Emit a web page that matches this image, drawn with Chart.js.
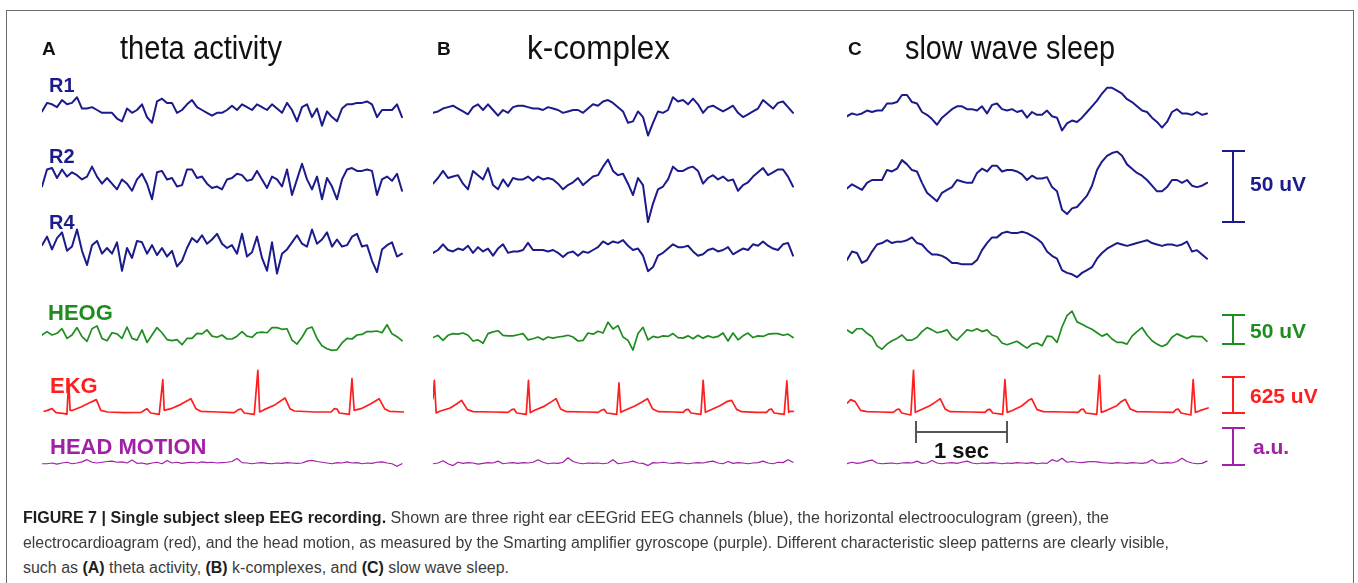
<!DOCTYPE html>
<html><head><meta charset="utf-8">
<script src="https://cdn.jsdelivr.net/npm/chart.js@4.4.1/dist/chart.umd.min.js"></script>
<style>
html,body{margin:0;padding:0;background:#fff;}
#stage{position:relative;width:1358px;height:583px;overflow:hidden;font-family:'Liberation Sans',Arial,Helvetica,sans-serif;}
.frame{position:absolute;left:6px;top:10px;width:1348px;height:600px;border:1.5px solid #6a6a6a;box-sizing:border-box;}
.t{position:absolute;white-space:nowrap;line-height:1;transform-origin:left top;}
.bar{position:absolute;}
canvas{position:absolute;}
</style></head><body><div id="stage"><div class="frame"></div></div>
<script>
// ---------- DATA ----------
const panels = ['theta activity', 'k-complex', 'slow wave sleep'];
const panelLetters = ['A', 'B', 'C'];
const channels = ['R1', 'R2', 'R4', 'HEOG', 'EKG', 'HEAD MOTION'];
const scaleLabels = ['50 uV', '50 uV', '625 uV', 'a.u.'];
const SECONDS_PER_PANEL = 4.0;
const DT = 0.05525;

// EEG (uV), panel A
const r1A = [-1,5,4,2,7,4,5,9,1,1,2,0,-2,-2,-2,-6,-8,1,-2,0,4,-5,-9,6,8,5,5,-2,0,4,7,2,0,-2,-4,-2,-2,0,3,0,4,2,0,4,2,0,4,1,-2,5,0,-8,2,4,-5,1,-11,-1,-5,-8,1,4,4,5,5,6,4,-5,0,0,0,4,-5];
const r2A = [-6,6,7,0,6,1,4,2,-1,1,8,1,-4,0,-4,-8,-1,-4,-9,-1,3,-4,-15,4,5,-1,0,-6,-5,6,6,0,1,-4,-7,-6,-8,-1,0,3,2,-2,-1,5,-1,-7,1,-1,-6,6,-12,-1,10,-1,-8,1,-15,0,-6,-15,-1,6,7,5,5,6,5,-12,-1,1,-2,3,-9];
const r4A = [2,8,-1,7,11,-2,1,13,-2,-12,2,5,-4,0,-4,4,-16,0,-7,5,4,-4,2,-5,0,-6,-2,-13,-9,0,7,4,9,3,6,10,3,0,2,-4,10,-6,-3,8,-7,-16,4,-18,-4,-1,4,9,3,1,13,3,6,11,1,6,1,2,8,10,1,2,-9,-17,-1,2,4,-6,-4];
const heogA = [0,6,0,3,11,-6,0,13,-3,-11,11,16,-6,-10,4,2,-6,14,-6,-9,9,-13,0,13,4,-8,-10,-8,-17,-6,-6,3,2,9,-2,-4,0,-7,-7,-2,6,-2,-4,4,5,4,13,13,10,11,-9,-16,-4,11,14,-6,-19,-24,-27,-26,-14,-6,-7,0,1,6,6,7,4,18,2,-3,-10];
const ekgA_t = [0.025,0.06,0.11,0.155,0.25,0.275,0.295,0.31,0.34,0.43,0.52,0.6,0.65,0.725,0.91,1.095,1.13,1.16,1.2,1.295,1.335,1.35,1.425,1.535,1.645,1.7,1.755,1.94,2.125,2.17,2.2,2.235,2.345,2.385,2.405,2.455,2.565,2.685,2.74,2.79,3.01,3.195,3.23,3.26,3.285,3.395,3.425,3.45,3.525,3.635,3.725,3.785,3.84,4.0];
const ekgA_v = [12,29,58,-12,-29,-41,551,29,29,87,157,215,29,0,-12,-6,29,58,-17,-41,563,29,58,133,232,58,12,0,-12,41,52,-17,-41,725,0,41,116,244,58,17,0,0,58,52,-17,-41,580,29,58,145,232,58,12,0];
const hmA = [-0.02,-0.02,0,-0.03,0,0.02,-0.02,0,0.03,0.09,0.02,0,0.02,0.04,0.05,0.02,0.03,0,0.08,-0.01,0,-0.03,0,0.02,-0.02,0.07,0,0.02,-0.01,0.01,0.02,0,0.03,0.01,0.02,0,0.01,0.02,0.04,0.12,0.01,0,-0.02,0,0.01,-0.01,-0.02,0,-0.01,0.01,0,-0.01,0,0.05,0.07,0.04,0.02,0,-0.02,0.01,0,0.03,0,0.01,-0.02,0,-0.01,0.02,0.03,0,-0.02,-0.09,-0.02];

// panel B
const r1B = [-2,-1,1,2,3,1,-1,-3,2,4,0,4,0,-4,0,-2,2,3,3,2,1,1,0,2,1,0,-2,-1,0,0,-2,1,4,3,6,7,5,2,-1,-9,-8,-1,-5,-18,-9,-1,-2,0,9,6,7,4,8,4,-2,2,3,1,-1,1,3,-2,-5,-3,-1,1,7,4,1,5,6,2,-2];
const r2B = [-4,0,5,0,1,2,-4,-8,5,2,-1,7,-5,-8,-1,-6,0,-1,-1,1,-2,1,-1,0,-1,-4,-8,-5,-3,0,-5,-2,1,2,8,13,5,2,3,-4,-12,0,-5,-31,-18,-8,-6,-1,8,5,5,7,8,5,-4,0,2,-1,1,-2,-1,-9,-5,-3,1,4,7,2,4,6,6,1,-6];
const r4B = [-2,0,4,0,-1,1,0,3,-2,2,-1,1,-4,1,4,-2,-1,-1,0,5,0,0,0,-1,0,-2,-5,-2,-1,-4,-1,-2,0,2,6,4,6,5,7,3,0,1,-4,-15,-12,-4,-2,1,4,2,2,3,-1,-4,-3,0,1,-1,0,2,-3,-1,1,0,4,3,6,3,1,0,4,5,-4];
const heogB = [-1,3,-6,3,6,5,7,3,-7,-5,-11,6,9,11,3,2,2,4,6,-5,-3,0,-5,0,-2,0,1,3,0,-7,-6,7,5,10,7,26,14,20,0,-6,-23,6,17,-5,1,-1,2,1,6,-1,-2,2,-3,3,-2,2,-1,1,7,-7,7,-5,2,7,-1,2,1,5,6,6,3,5,-1];
const ekgB_t = [0.0,0.015,0.035,0.075,0.19,0.26,0.315,0.38,0.445,0.665,0.83,0.87,0.895,0.925,1.03,1.055,1.075,1.11,1.22,1.31,1.36,1.41,1.475,1.7,1.825,1.865,1.89,1.92,2.03,2.055,2.075,2.12,2.23,2.315,2.37,2.425,2.49,2.655,2.765,2.795,2.82,2.85,2.96,2.985,3.01,3.06,3.17,3.245,3.3,3.355,3.41,3.575,3.685,3.715,3.74,3.77,3.88,3.91,3.93,3.95,3.98];
const ekgB_v = [232,551,-17,12,70,139,203,41,6,0,-6,41,52,-17,-41,551,-12,23,93,180,232,52,6,0,-6,35,46,-17,-41,505,-6,29,104,180,232,58,6,0,-6,41,46,-17,-41,551,-6,29,110,180,203,46,6,-6,-6,41,52,-17,-41,540,-6,12,12];
const hmB = [-0.02,0,0.06,-0.02,-0.07,0.02,-0.01,0.01,0,-0.03,-0.01,0.01,0,0.05,-0.02,0,0.01,-0.01,0.01,0,0.02,0.09,0.02,-0.02,0,-0.01,0.02,0.14,0.04,0,-0.02,0,-0.01,0,-0.02,0,0.09,-0.02,0,0.02,0.05,0,-0.01,-0.07,0.01,0,0.02,0,-0.01,0.01,0,-0.02,0,0.01,0,0.03,0.05,0,-0.02,0.04,-0.01,0.01,0,-0.02,0,0.01,0.05,0,-0.02,0.02,0.01,0.09,0.02];

// panel C
const r1C = [-3,-1,-2,-1,1,0,1,1,6,6,7,12,12,7,6,0,-2,-5,-9,-4,-1,2,4,4,2,2,1,4,-1,5,6,2,1,2,0,1,-4,0,-2,-2,1,-3,-4,-13,-8,-6,-7,-4,0,4,8,13,17,17,15,13,9,7,4,1,0,-4,-7,-11,-7,0,2,-1,-1,-2,0,-2,-1];
const r2C = [-6,-3,-5,-7,-2,0,0,0,7,6,8,14,11,7,6,-2,-9,-12,-15,-9,-7,-5,0,-1,-2,-2,5,8,6,10,10,6,7,7,6,4,0,3,1,1,2,-5,-8,-21,-24,-20,-19,-15,-11,-4,7,13,17,19,20,17,11,8,5,3,0,-4,-8,-8,-5,0,0,-2,0,-4,-5,-4,-2];
const r4C = [-5,1,0,-7,-5,1,6,7,9,7,8,8,9,11,7,6,2,-1,-1,-2,-4,-7,-7,-8,-8,-8,-5,2,7,11,11,14,15,14,14,15,14,12,10,7,1,-2,-4,-12,-14,-15,-17,-14,-12,-10,-4,0,3,5,7,6,5,6,7,8,9,7,6,5,6,6,5,6,8,1,2,-1,-4];
const heogC = [9,3,11,11,3,-3,-19,-25,-16,-10,-6,0,-9,-9,-4,6,13,9,4,6,9,-3,-9,0,9,7,11,6,9,0,-3,-14,-17,-14,-11,-17,-23,-16,-14,-19,-2,-3,-13,14,34,42,23,19,14,10,4,-2,2,-7,-13,-13,-16,-2,6,13,0,-10,-16,-20,-16,-4,2,-2,-6,-2,-3,-3,-11];
const ekgC_t = [0.005,0.04,0.09,0.15,0.22,0.365,0.51,0.55,0.575,0.605,0.705,0.735,0.755,0.805,0.915,0.985,1.03,1.085,1.14,1.36,1.525,1.555,1.58,1.61,1.72,1.745,1.77,1.82,1.93,2.005,2.04,2.1,2.17,2.39,2.555,2.585,2.61,2.64,2.76,2.79,2.81,2.87,2.98,3.03,3.075,3.13,3.2,3.42,3.605,3.635,3.66,3.69,3.8,3.825,3.85,3.9,3.99];
const ekgC_v = [157,215,180,29,6,0,-6,41,52,-17,-52,725,-6,29,110,180,232,52,6,0,-6,41,46,-17,-41,563,-6,23,104,203,232,41,6,0,-6,41,52,-17,-41,638,-6,29,110,180,220,52,6,0,-6,41,52,-17,-52,563,-6,23,70];
const hmC = [-0.02,0.02,-0.01,0.01,0.05,0.08,0,-0.02,-0.01,0,-0.02,0,0.01,0,0.05,-0.01,0,0.07,0,-0.02,0,0.01,-0.01,0.02,0.05,0,-0.02,0,-0.01,0.01,0,-0.02,0,-0.01,0.01,0,-0.01,0.01,-0.02,0,-0.01,0.09,0.04,0.13,0.02,0.04,0.02,0.01,0.03,0.04,0.03,0.01,0,-0.01,0.01,0,-0.01,0.01,0,-0.01,0.01,0.09,0,-0.01,0.01,0,0.04,0.13,0.04,0,-0.02,-0.01,0.05];

// ---------- LAYOUT / STYLE ----------
const stage = document.getElementById('stage');
const FONT = "'Liberation Sans', Arial, Helvetica, sans-serif";
const COL = {blue:'#1b1b8c', green:'#1f8c1f', red:'#ff1e1e', purple:'#a21fa8'};
const PANEL_X = [41.5, 433, 847];
const PX_PER_S = 90.5;
const PANEL_W = SECONDS_PER_PANEL * PX_PER_S;
const PX_PER_UNIT = {eeg:1.42, heog:0.57, ekg:0.0575, hm:37};
const ROWS = [
  {name:'R1', kind:'eeg', color:COL.blue, lw:2, y:[110,110,112], data:[r1A,r1B,r1C]},
  {name:'R2', kind:'eeg', color:COL.blue, lw:2, y:[178,178,180], data:[r2A,r2B,r2C]},
  {name:'R4', kind:'eeg', color:COL.blue, lw:2, y:[248,250,253], data:[r4A,r4B,r4C]},
  {name:'HEOG', kind:'heog', color:COL.green, lw:1.7, y:[335,337,335], data:[heogA,heogB,heogC]},
  {name:'EKG', kind:'ekg', color:COL.red, lw:1.7, y:[412,412,412], t:[ekgA_t,ekgB_t,ekgC_t], data:[ekgA_v,ekgB_v,ekgC_v]},
  {name:'HEAD MOTION', kind:'hm', color:COL.purple, lw:1.2, y:[463,463,463], data:[hmA,hmB,hmC]}
];

function text(html, x, baseline, size, weight, color, fitW, family) {
  const d = document.createElement('div');
  d.className = 't';
  d.style.font = `${weight} ${size}px ${family || FONT}`;
  d.style.color = color;
  d.style.left = x + 'px';
  d.style.top = (baseline - 0.8465 * size) + 'px';
  d.innerHTML = html;
  stage.appendChild(d);
  if (fitW) {
    const w = d.getBoundingClientRect().width;
    d.style.transform = `scaleX(${fitW / w})`;
  }
  return d;
}
function box(x, y, w, h, color) {
  const d = document.createElement('div');
  d.className = 'bar';
  Object.assign(d.style, {left:x+'px', top:y+'px', width:w+'px', height:h+'px', background:color});
  stage.appendChild(d);
}

const PADX = 3, HALF_H = 52;
function trace(x0, yc, pts, kind, color, lw) {
  const c = document.createElement('canvas');
  const W = Math.round(PANEL_W + 2 * PADX), H = 2 * HALF_H;
  c.width = W; c.height = H;
  c.style.width = W + 'px'; c.style.height = H + 'px';
  c.style.left = (x0 - PADX) + 'px';
  c.style.top = (yc - HALF_H) + 'px';
  stage.appendChild(c);
  const k = PX_PER_UNIT[kind];
  new Chart(c, {
    type: 'line',
    data: {datasets: [{data: pts, borderColor: color, borderWidth: lw, pointRadius: 0,
      tension: 0, fill: false, borderJoinStyle: 'round', borderCapStyle: 'round'}]},
    options: {
      responsive: false, animation: false, events: [], devicePixelRatio: 1,
      layout: {padding: {left: PADX, right: W - PADX - PANEL_W, top: 0, bottom: 0}},
      plugins: {legend: {display: false}, tooltip: {enabled: false}, title: {display: false}},
      scales: {
        x: {type: 'linear', display: false, min: 0, max: SECONDS_PER_PANEL},
        y: {type: 'linear', display: false, min: -HALF_H / k, max: HALF_H / k}
      }
    }
  });
}

// traces
ROWS.forEach(row => {
  for (let p = 0; p < 3; p++) {
    const vals = row.data[p];
    const pts = row.t ? row.t[p].map((t, i) => ({x: t, y: vals[i]}))
                      : vals.map((v, i) => ({x: i * DT, y: v}));
    trace(PANEL_X[p], row.y[p], pts, row.kind, row.color, row.lw);
  }
});

// headers
const letterX = [42, 437, 848], titleX = [120, 527, 905], titleW = [162, 143, 210];
for (let p = 0; p < 3; p++) {
  text(panelLetters[p], letterX[p], 54, 19, 'bold', '#111');
  text(panels[p], titleX[p], 57, 33, 'normal', '#111', titleW[p]);
}

// channel labels
const labelPos = [[49,91,20],[49,162,20],[49,228,20],[48,319,22],[50,392,22],[50,453,22]];
ROWS.forEach((row, i) => text(row.name, labelPos[i][0], labelPos[i][1], labelPos[i][2], 'bold', row.color));

// scale bars (lengths from the same px-per-unit used by the traces)
const BAR_X = 1233, CAP_W = 23, BAR_LW = 2;
const bars = [
  {val:50, kind:'eeg', cy:186.5, color:COL.blue, label:scaleLabels[0], tx:1250, tb:190},
  {val:50, kind:'heog', cy:329.7, color:COL.green, label:scaleLabels[1], tx:1250, tb:337},
  {val:625, kind:'ekg', cy:395, color:COL.red, label:scaleLabels[2], tx:1250, tb:402},
  {val:1, kind:'hm', cy:446, color:COL.purple, label:scaleLabels[3], tx:1253, tb:453}
];
bars.forEach(b => {
  const h = b.val * PX_PER_UNIT[b.kind];
  const top = b.cy - h / 2;
  box(BAR_X - BAR_LW / 2, top, BAR_LW, h, b.color);
  box(BAR_X - CAP_W / 2, top - BAR_LW / 2, CAP_W, BAR_LW, b.color);
  box(BAR_X - CAP_W / 2, top + h - BAR_LW / 2, CAP_W, BAR_LW, b.color);
  text(b.label, b.tx, b.tb, 21, 'bold', b.color);
});

// 1 sec time bar
const secX = 916, secY = 432, secW = 1 * PX_PER_S;
box(secX, secY - 1, secW, 2, '#555');
box(secX - 1, 421, 2, 22, '#555');
box(secX + secW - 1, 421, 2, 22, '#555');
text('1 sec', 934, 457, 22, 'bold', '#111');

// caption
const capCol = '#3c3c3c';
const l1 = text('<b style="color:#1e1e1e">FIGURE 7 | Single subject sleep EEG recording.</b> Shown are three right ear cEEGrid EEG channels (blue), the horizontal electrooculogram (green), the', 22.5, 523, 16, 'normal', capCol, 1086);
const l2 = text('electrocardioagram (red), and the head motion, as measured by the Smarting amplifier gyroscope (purple). Different characteristic sleep patterns are clearly visible,', 22.5, 548, 16, 'normal', capCol, 1146);
const s = (parseFloat(l1.style.transform.slice(7)) + parseFloat(l2.style.transform.slice(7))) / 2;
const l3 = text('such as <b style="color:#1e1e1e">(A)</b> theta activity, <b style="color:#1e1e1e">(B)</b> k-complexes, and <b style="color:#1e1e1e">(C)</b> slow wave sleep.', 22.5, 573, 16, 'normal', capCol);
l3.style.transform = `scaleX(${s})`;
</script></body></html>
